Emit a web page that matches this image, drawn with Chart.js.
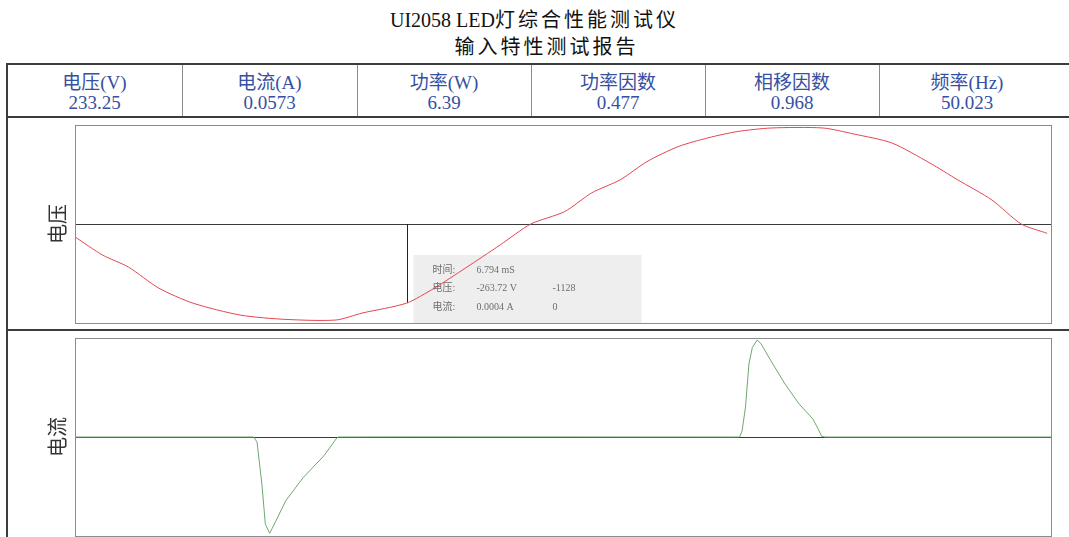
<!DOCTYPE html>
<html>
<head>
<meta charset="utf-8">
<script src="https://cdn.jsdelivr.net/npm/chart.js@4.4.0/dist/chart.umd.min.js"></script>
<style>
body { margin:0; width:1069px; height:537px; overflow:hidden; background:#fff; position:relative;
       font-family:'Liberation Serif','Noto Sans CJK SC',serif; }
.title { position:absolute; left:0; width:1069px; text-align:center; font-size:20px; color:#111; line-height:22px; }
.title .cjk { letter-spacing:3px; }
.rule { position:absolute; background:#3c3c3c; }
.divider { position:absolute; top:65px; width:1px; height:51px; background:#8c8c8c; }
.cell { position:absolute; top:73px; text-align:center; color:#3650a2; font-size:19px; line-height:20px; }
.panel { position:absolute; left:0; width:1069px; height:210px; }
</style>
</head>
<body>
<div class="title" style="top:9px">UI2058 LED<span class="cjk">灯综合性能测试仪</span></div>
<div class="title" style="top:36px;padding-left:12px"><span class="cjk">输入特性测试报告</span></div>

<div class="rule" style="left:6px;top:63px;width:1063px;height:2px"></div>
<div class="rule" style="left:6px;top:116px;width:1063px;height:2px"></div>
<div class="rule" style="left:6px;top:329px;width:1063px;height:2px"></div>
<div class="rule" style="left:6px;top:63px;width:2px;height:480px"></div>
<div id="header"></div>

<div class="panel" style="top:119px"><canvas id="voltageChart" width="1069" height="210"></canvas></div>
<div class="panel" style="top:332px"><canvas id="currentChart" width="1069" height="210"></canvas></div>

<script>
// meter readings across the header row
const meterLabels = ['电压(V)', '电流(A)', '功率(W)', '功率因数', '相移因数', '频率(Hz)'];
const meterValues = ['233.25', '0.0573', '6.39', '0.477', '0.968', '50.023'];
const columnEdges = [7, 182, 357, 531, 705, 879, 1055];

// one cycle of the input waveforms, time in ms
const voltageTime = [0, 0.57, 1.09, 1.72, 2.42, 3.40, 4.32, 5.35, 5.88, 6.794, 7.36, 8.00, 8.71, 9.34,
                     10.03, 10.59, 11.17, 11.72, 12.36, 12.99, 13.57, 14.26, 15.33, 15.96, 16.74, 17.52,
                     18.09, 18.79, 19.39, 19.92];
const voltage = [-43, -104, -143, -214, -264, -304, -318, -320, -297, -263.72, -214, -147, -70, 0,
                 41, 104, 147, 208, 258, 288, 308, 320, 320, 300, 270, 203,
                 147, 80, 0, -31];

const currentTime = [0, 3.66, 3.73, 3.83, 3.90, 3.99, 4.12, 4.32, 4.68, 5.10, 5.35, 5.39, 6.794,
                     13.62, 13.67, 13.74, 13.81, 13.88, 13.98, 14.06, 14.26, 14.55, 14.84, 15.12,
                     15.23, 15.30, 15.37, 20];
const current = [0, 0, -0.020, -0.190, -0.352, -0.389, -0.338, -0.257, -0.163, -0.076, -0.008, 0, 0.0004,
                 0, 0.025, 0.121, 0.295, 0.362, 0.392, 0.376, 0.308, 0.214, 0.133, 0.073,
                 0.032, 0.003, 0, 0];

// cursor readout
const cursorTime = 6.794;
const cursorVoltage = -263.72;
const readoutLabels = ['时间:', '电压:', '电流:'];
const readoutValues = ['6.794 mS', '-263.72 V', '0.0004 A'];
const readoutRaw = ['', '-1128', '0'];

const header = document.getElementById('header');
meterLabels.forEach((label, i) => {
    const left = columnEdges[i], right = columnEdges[i + 1];
    const cell = document.createElement('div');
    cell.className = 'cell';
    cell.style.left = left + 'px';
    cell.style.width = (right - left) + 'px';
    cell.innerHTML = label + '<br>' + meterValues[i];
    header.appendChild(cell);
    if (i > 0) {
        const div = document.createElement('div');
        div.className = 'divider';
        div.style.left = left + 'px';
        header.appendChild(div);
    }
});

const plotFrame = {
    id: 'plotFrame',
    beforeDatasetsDraw(chart, args, opts) {
        if (!opts.readout) return;
        const {ctx, chartArea} = chart;
        const xs = chart.scales.x, ys = chart.scales.y;
        const cx = Math.round(xs.getPixelForValue(cursorTime)) + 0.5;
        const left = cx + 6, top = chartArea.bottom - 68;
        ctx.save();
        ctx.fillStyle = '#eeeeee';
        ctx.fillRect(left, top, 228, 68);
        ctx.fillStyle = '#6e6e6e';
        ctx.textBaseline = 'middle';
        ctx.font = '10px "Liberation Serif", "Noto Sans CJK SC", serif';
        readoutLabels.forEach((t, i) => {
            const y = top + 15 + i * 18.5;
            ctx.fillText(t, left + 19, y);
            ctx.fillText(readoutValues[i], left + 63, y);
            if (readoutRaw[i]) ctx.fillText(readoutRaw[i], left + 139, y);
        });
        ctx.strokeStyle = '#222';
        ctx.lineWidth = 1;
        ctx.beginPath();
        ctx.moveTo(cx, ys.getPixelForValue(0));
        ctx.lineTo(cx, ys.getPixelForValue(cursorVoltage));
        ctx.stroke();
        ctx.restore();
    },
    afterDraw(chart) {
        const {ctx, chartArea: a} = chart;
        ctx.save();
        ctx.strokeStyle = '#8c8c8c';
        ctx.lineWidth = 1;
        ctx.strokeRect(Math.round(a.left) + 0.5, Math.round(a.top) + 0.5,
                       Math.round(a.right - a.left), Math.round(a.bottom - a.top));
        ctx.restore();
    }
};

function drawPanel(id, label, xs, ys, color, limit, tension, readout) {
    const points = xs.map((x, i) => ({x: x, y: ys[i]}));
    return new Chart(document.getElementById(id), {
        type: 'line',
        data: {
            datasets: [{
                data: points,
                borderColor: color,
                borderWidth: 1,
                pointRadius: 0,
                tension: tension,
                fill: false
            }]
        },
        options: {
            responsive: false,
            animation: false,
            devicePixelRatio: 1,
            layout: { padding: { left: 45, right: 18, top: 6, bottom: 6 } },
            plugins: {
                legend: { display: false },
                tooltip: { enabled: false },
                plotFrame: { readout: readout }
            },
            scales: {
                x: { type: 'linear', min: 0, max: 20, display: false },
                y: {
                    min: -limit,
                    max: limit,
                    ticks: { display: false },
                    border: { display: false },
                    grid: {
                        drawTicks: false,
                        lineWidth: 1,
                        color: c => Math.abs(c.tick.value) < 1e-9 ? '#3a3a3a' : 'transparent'
                    },
                    title: {
                        display: true,
                        text: label,
                        color: '#333',
                        font: { size: 20, family: '"Noto Sans CJK SC", sans-serif' },
                        padding: { top: 0, bottom: 6 }
                    }
                }
            }
        },
        plugins: [plotFrame]
    });
}

drawPanel('voltageChart', '电压', voltageTime, voltage, 'rgb(228,70,80)', 330, 0.25, true);
drawPanel('currentChart', '电流', currentTime, current, 'rgb(110,168,110)', 0.4, 0, false);
</script>
</body>
</html>
